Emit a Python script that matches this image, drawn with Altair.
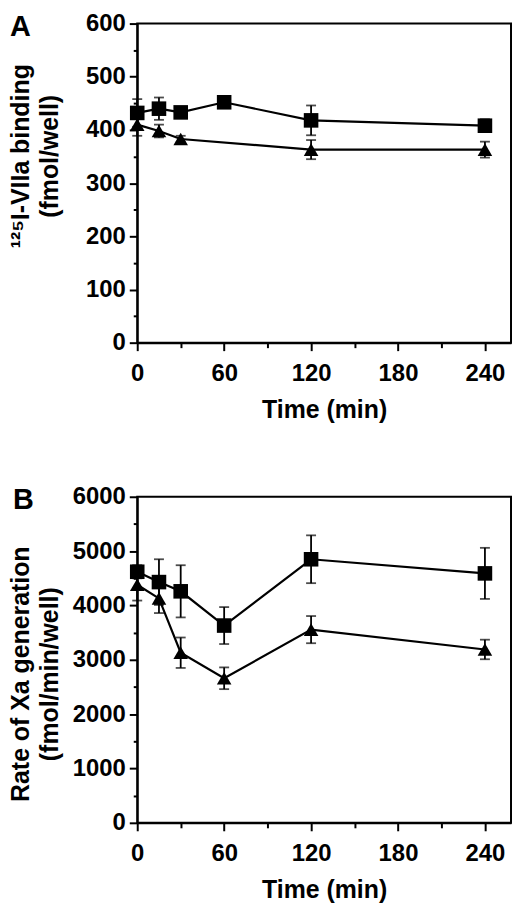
import altair as alt
import pandas as pd

FONT = "Liberation Sans"

# ---- data ----
time_min = [0, 15, 30, 60, 120, 240]

a_square = [432, 440, 433, 452, 418, 408]
a_square_err = [26, 21, 8, 6, 28, 12]
a_triangle_t = [0, 15, 30, 120, 240]
a_triangle = [410, 398, 383, 363, 363]
a_triangle_err = [21, 12, 6, 18, 15]

b_square = [4620, 4430, 4260, 3630, 4850, 4590]
b_square_err = [120, 420, 480, 340, 440, 470]
b_triangle = [4380, 4130, 3130, 2660, 3555, 3190]
b_triangle_err = [290, 270, 280, 200, 250, 180]

x_ticks = [0, 30, 60, 90, 120, 150, 180, 210, 240]
a_y_ticks = list(range(0, 601, 50))
b_y_ticks = list(range(0, 6001, 500))


def table(ts, vals, errs, series):
    return pd.DataFrame({
        "t": ts, "v": vals,
        "lo": [v - e for v, e in zip(vals, errs)],
        "hi": [v + e for v, e in zip(vals, errs)],
        "s": series,
    })


df_a = pd.concat([
    table(time_min, a_square, a_square_err, "square"),
    table(a_triangle_t, a_triangle, a_triangle_err, "triangle"),
])
df_b = pd.concat([
    table(time_min, b_square, b_square_err, "square"),
    table(time_min, b_triangle, b_triangle_err, "triangle"),
])


def panel(df, ymax, ymajor, ticks, ytitle, letter, h, title_y, letter_dx, letter_y):
    xaxis = alt.Axis(
        values=x_ticks,
        labelExpr="datum.value % 60 === 0 ? datum.label : ''",
        tickSize={"condition": {"test": "datum.value % 60 !== 0", "value": 5}, "value": 8},
        labelPadding=11, titlePadding=12, labelFlush=False,
        title="Time (min)",
    )
    yaxis = alt.Axis(
        values=ticks,
        labelExpr="datum.value %% %d === 0 ? datum.label : ''" % ymajor,
        tickSize={"condition": {"test": "datum.value %% %d !== 0" % ymajor, "value": 4}, "value": 8},
        labelPadding=4, format="d",
        title=ytitle, titleX=-104, titleY=title_y, titleBaseline="bottom",
        titleAlign="center", titleAngle=270, titleLineHeight=29,
    )
    xs = alt.Scale(domain=[0, 258], nice=False, zero=False)
    ys = alt.Scale(domain=[0, ymax], nice=False)

    def X():
        return alt.X("t:Q", scale=xs, axis=xaxis)

    def Y(f):
        return alt.Y(f + ":Q", scale=ys, axis=yaxis)

    base = alt.Chart(df)
    lines = base.mark_line(color="black", strokeWidth=2.2).encode(
        x=X(), y=Y("v"), detail="s:N")
    bars = base.mark_rule(color="black", strokeWidth=1.8).encode(
        x=X(), y=Y("lo"), y2="hi:Q")
    cap_lo = base.mark_tick(color="black", orient="horizontal", size=10, thickness=1.8).encode(
        x=X(), y=Y("lo"))
    cap_hi = base.mark_tick(color="black", orient="horizontal", size=10, thickness=1.8).encode(
        x=X(), y=Y("hi"))
    pts = base.mark_point(filled=True, color="black", opacity=1, size=215).encode(
        x=X(), y=Y("v"),
        shape=alt.Shape("s:N", scale=alt.Scale(domain=["square", "triangle"],
                                               range=["square", "triangle-up"]),
                        legend=None))
    tag = alt.Chart(pd.DataFrame({"tag": [letter]})).mark_text(
        font=FONT, fontSize=29, fontWeight="bold", color="black",
        align="left", baseline="alphabetic",
    ).encode(text="tag:N", x=alt.value(letter_dx), y=alt.value(letter_y))
    return alt.layer(lines, bars, cap_lo, cap_hi, pts, tag).properties(width=376, height=h)


chart_a = panel(df_a, 600, 100, a_y_ticks, ["¹²⁵I-VIIa binding", "(fmol/well)"], "A", 321, 133, -128, 12)
chart_b = panel(df_b, 6000, 1000, b_y_ticks, ["Rate of Xa generation", "(fmol/min/well)"], "B", 328, 178, -125, 12)

chart = alt.vconcat(chart_a, chart_b, spacing=155, bounds="flush").properties(
    padding={"left": 0, "top": 0, "right": 0, "bottom": 0}
).configure(background="white").configure_view(
    stroke="black", strokeWidth=2
).configure_axis(
    domainColor="black", domainWidth=2, tickColor="black", tickWidth=2, grid=False,
    labelFont=FONT, labelFontSize=24, labelFontWeight="bold", labelColor="black",
    titleFont=FONT, titleFontSize=25, titleFontWeight="bold", titleColor="black",
)

chart.save("out.html", embed_options={"renderer": "svg", "actions": False})
